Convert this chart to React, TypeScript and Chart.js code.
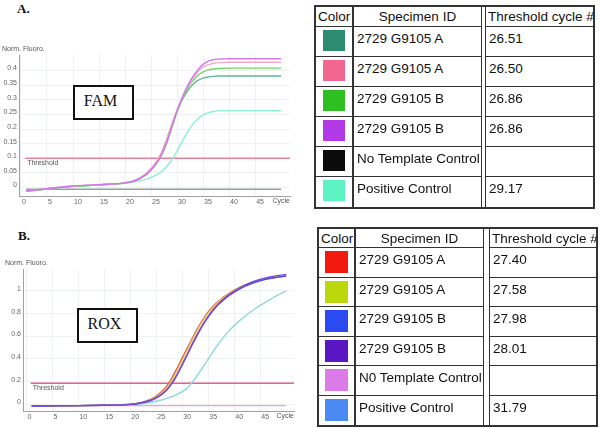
import React, { useEffect, useRef } from 'react';
import { Chart, registerables } from 'chart.js';
Chart.register(...registerables);

// ---------- FAM (panel A) ----------
const FAM_CYCLES = [1, 5, 10, 15, 20, 22, 24, 25, 26, 27, 28, 29, 30, 31, 32, 33, 34, 35, 36, 37, 38, 40, 45, 50];
const FAM_TEAL = [-0.012, -0.005, 0.004, 0.009, 0.016, 0.024, 0.046, 0.064, 0.087, 0.118, 0.163, 0.215, 0.262, 0.300, 0.330, 0.352, 0.366, 0.374, 0.378, 0.380, 0.381, 0.381, 0.381, 0.381];
const FAM_PINK = [-0.012, -0.004, 0.005, 0.010, 0.016, 0.025, 0.047, 0.065, 0.088, 0.120, 0.165, 0.217, 0.266, 0.307, 0.345, 0.372, 0.395, 0.411, 0.420, 0.425, 0.427, 0.428, 0.428, 0.428];
const FAM_GREEN = [-0.013, -0.005, 0.004, 0.009, 0.015, 0.023, 0.043, 0.060, 0.081, 0.110, 0.152, 0.205, 0.258, 0.303, 0.340, 0.365, 0.383, 0.395, 0.402, 0.405, 0.407, 0.408, 0.408, 0.408];
const FAM_PURPLE = [-0.012, -0.004, 0.005, 0.010, 0.016, 0.024, 0.044, 0.061, 0.082, 0.111, 0.154, 0.208, 0.262, 0.308, 0.348, 0.378, 0.402, 0.421, 0.432, 0.437, 0.439, 0.440, 0.440, 0.440];
const FAM_POS = [-0.012, -0.005, 0.004, 0.009, 0.015, 0.020, 0.028, 0.034, 0.043, 0.055, 0.072, 0.095, 0.125, 0.158, 0.190, 0.215, 0.235, 0.248, 0.256, 0.260, 0.262, 0.263, 0.263, 0.263];
const NTC_CYCLES = [1, 50];
const FAM_NTC = [-0.006, -0.006];
const FAM_THRESHOLD = 0.1;
const FAM_Y_TICKS = [0, 0.05, 0.1, 0.15, 0.2, 0.25, 0.3, 0.35, 0.4];

// ---------- ROX (panel B) ----------
const ROX_CYCLES = [1, 5, 10, 15, 20, 22, 24, 25, 26, 27, 28, 29, 30, 31, 32, 33, 34, 35, 36, 37, 38, 39, 40, 42, 44, 46, 48, 50];
const ROX_RED = [-0.015, -0.014, -0.012, -0.008, 0.000, 0.015, 0.045, 0.072, 0.110, 0.160, 0.232, 0.318, 0.410, 0.500, 0.590, 0.675, 0.750, 0.815, 0.868, 0.910, 0.948, 0.980, 1.008, 1.052, 1.083, 1.105, 1.120, 1.132];
const ROX_YELLOW = [-0.015, -0.014, -0.012, -0.008, 0.000, 0.014, 0.042, 0.067, 0.102, 0.148, 0.215, 0.300, 0.392, 0.485, 0.577, 0.663, 0.740, 0.807, 0.862, 0.906, 0.945, 0.978, 1.006, 1.050, 1.083, 1.106, 1.123, 1.135];
const ROX_BLUE = [-0.015, -0.014, -0.012, -0.008, -0.001, 0.012, 0.036, 0.057, 0.088, 0.128, 0.187, 0.262, 0.350, 0.442, 0.535, 0.622, 0.702, 0.772, 0.832, 0.882, 0.924, 0.960, 0.990, 1.040, 1.077, 1.103, 1.120, 1.133];
const ROX_PURPLE = [-0.015, -0.014, -0.012, -0.008, -0.001, 0.012, 0.035, 0.056, 0.086, 0.126, 0.185, 0.262, 0.352, 0.446, 0.540, 0.628, 0.708, 0.779, 0.840, 0.890, 0.932, 0.968, 0.999, 1.050, 1.088, 1.115, 1.133, 1.146];
const ROX_POS = [-0.015, -0.014, -0.012, -0.009, -0.003, 0.005, 0.018, 0.027, 0.038, 0.052, 0.068, 0.088, 0.112, 0.145, 0.200, 0.262, 0.330, 0.400, 0.470, 0.535, 0.595, 0.648, 0.695, 0.775, 0.843, 0.900, 0.955, 1.000];
const ROX_NTC = [-0.012, -0.012];
const ROX_THRESHOLD = 0.185;
const ROX_Y_TICKS = [0, 0.2, 0.4, 0.6, 0.8, 1];

const X_TICKS = [0, 5, 10, 15, 20, 25, 30, 35, 40, 45];
const THRESHOLD_CYCLES = [0.8, 55];

// ---------- tables ----------
const FAM_IDS = ['2729 G9105 A', '2729 G9105 A', '2729 G9105 B', '2729 G9105 B', 'No Template Control', 'Positive Control'];
const FAM_CTS = ['26.51', '26.50', '26.86', '26.86', '', '29.17'];
const FAM_SWATCH = ['#2b8c70', '#f2668f', '#2fbf22', '#b23ae6', '#0b0b0b', '#5cf2c2'];
const FAM_LINE = ['#62b799', '#f4a9c6', '#72d66c', '#d076f2', '#8fa39c', '#88f2cf'];

const ROX_IDS = ['2729 G9105 A', '2729 G9105 A', '2729 G9105 B', '2729 G9105 B', 'N0 Template Control', 'Positive Control'];
const ROX_CTS = ['27.40', '27.58', '27.98', '28.01', '', '31.79'];
const ROX_SWATCH = ['#f2190f', '#bcd80c', '#2a4af2', '#5a16c2', '#dc7ae8', '#4a8af2'];
const ROX_LINE = ['#c9483e', '#f0c24a', '#3e4ef0', '#8048d8', '#e9a0f2', '#8ad8e2'];

const FONT = '"Liberation Sans", Arial, sans-serif';

const annotPlugin = {
  id: 'annot',
  afterDatasetsDraw(chart: any, _args: any, opts: any) {
    const { ctx, chartArea, scales } = chart;
    ctx.save();
    ctx.font = `7px ${FONT}`;
    ctx.fillStyle = '#555';
    ctx.textAlign = 'left';
    ctx.textBaseline = 'top';
    const ty = scales.y.getPixelForValue(opts.threshold);
    ctx.fillText('Threshold', scales.x.getPixelForValue(1) + 1, ty + 1.5);
    ctx.textBaseline = 'bottom';
    ctx.fillText('Norm. Fluoro.', opts.titleX, chartArea.top - 2);
    ctx.textAlign = 'right';
    ctx.textBaseline = 'top';
    ctx.fillText('Cycle', chartArea.right, chartArea.bottom + 2);
    ctx.restore();
  },
};

type Series = { cycles: number[]; values: number[]; color: string };

type ChartProps = {
  left: number; top: number; width: number; height: number;
  padTop: number; padRight: number; yWidth: number; xHeight: number;
  xMin: number; xMax: number; yMin: number; yMax: number;
  yTicks: number[]; threshold: number; thresholdColor: string;
  series: Series[]; titleX: number;
};

function QpcrChart(p: ChartProps) {
  const ref = useRef<HTMLCanvasElement>(null);
  useEffect(() => {
    const datasets: any[] = p.series.map((s) => ({
      data: s.cycles.map((c, i) => ({ x: c, y: s.values[i] })),
      borderColor: s.color,
      borderWidth: 1.4,
      pointRadius: 0,
      fill: false,
      cubicInterpolationMode: 'monotone',
    }));
    datasets.push({
      data: THRESHOLD_CYCLES.map((c) => ({ x: c, y: p.threshold })),
      borderColor: p.thresholdColor,
      borderWidth: 1.5,
      pointRadius: 0,
      fill: false,
    });
    const chart = new Chart(ref.current as HTMLCanvasElement, {
      type: 'line',
      data: { datasets },
      plugins: [annotPlugin as any],
      options: {
        animation: false,
        responsive: false,
        events: [],
        layout: { padding: { left: 0, top: p.padTop, right: p.padRight, bottom: 0 } },
        plugins: {
          legend: { display: false },
          tooltip: { enabled: false },
          annot: { threshold: p.threshold, titleX: p.titleX },
        } as any,
        scales: {
          x: {
            type: 'linear',
            min: p.xMin,
            max: p.xMax,
            afterBuildTicks: (s: any) => { s.ticks = X_TICKS.map((v) => ({ value: v })); },
            afterFit: (s: any) => { s.height = p.xHeight; },
            ticks: {
              autoSkip: false, maxRotation: 0, align: 'start', padding: 2, labelOffset: 1,
              color: '#666', font: { family: FONT, size: 7 },
              callback: (v: any) => String(v),
            },
            grid: { color: '#eef2ee', drawTicks: false },
            border: { color: '#a0a0a0', width: 1 },
          },
          y: {
            type: 'linear',
            min: p.yMin,
            max: p.yMax,
            afterBuildTicks: (s: any) => { s.ticks = p.yTicks.map((v) => ({ value: v })); },
            afterFit: (s: any) => { s.width = p.yWidth; },
            ticks: {
              autoSkip: false, padding: 2, labelOffset: -2,
              color: '#666', font: { family: FONT, size: 7 },
              callback: (v: any) => String(+Number(v).toFixed(2)),
            },
            grid: { color: '#eef2ee', drawTicks: false },
            border: { color: '#a0a0a0', width: 1 },
          },
        },
      } as any,
    });
    return () => chart.destroy();
  }, []);
  return (
    <canvas
      ref={ref}
      width={p.width}
      height={p.height}
      style={{ position: 'absolute', left: p.left, top: p.top, width: p.width, height: p.height }}
    />
  );
}

type TableProps = {
  left: number; top: number; width: number; height: number;
  colW: number; specW: number; gapW: number; headH: number; rowH: number;
  ids: string[]; cts: string[]; swatches: string[]; swW: number; swH: number;
};

function CtTable(t: TableProps) {
  const line = '#333';
  const base: React.CSSProperties = { boxSizing: 'border-box', padding: 0, overflow: 'hidden', whiteSpace: 'nowrap' };
  return (
    <table
      style={{
        position: 'absolute', left: t.left, top: t.top, width: t.width, height: t.height,
        boxSizing: 'border-box', borderCollapse: 'separate', borderSpacing: 0, tableLayout: 'fixed',
        border: `2px solid ${line}`, fontFamily: FONT, fontSize: 13.5, color: '#111', background: '#fff',
      }}
    >
      <colgroup>
        <col style={{ width: t.colW }} />
        <col style={{ width: t.specW }} />
        <col style={{ width: t.gapW }} />
        <col />
      </colgroup>
      <tbody>
        <tr style={{ height: t.headH }}>
          <td style={{ ...base, borderRight: `2px solid ${line}`, borderBottom: `1px solid ${line}`, paddingLeft: 2, verticalAlign: 'middle' }}>Color</td>
          <td style={{ ...base, borderRight: `1px solid ${line}`, borderBottom: `1px solid ${line}`, textAlign: 'center', verticalAlign: 'middle' }}>Specimen ID</td>
          <td style={{ ...base, borderRight: `1px solid ${line}` }} />
          <td style={{ ...base, borderBottom: `1px solid ${line}`, paddingLeft: 2, verticalAlign: 'middle' }}>Threshold cycle #</td>
        </tr>
        {t.ids.map((id, i) => {
          const last = i === t.ids.length - 1;
          const bb = last ? 'none' : `1px solid ${line}`;
          return (
            <tr key={i} style={{ height: t.rowH }}>
              <td style={{ ...base, borderRight: `2px solid ${line}`, borderBottom: bb, verticalAlign: 'top', paddingTop: 3 }}>
                <div style={{ width: t.swW, height: t.swH, background: t.swatches[i], margin: '0 auto' }} />
              </td>
              <td style={{ ...base, borderRight: `1px solid ${line}`, borderBottom: bb, verticalAlign: 'top', paddingTop: 4, paddingLeft: 3 }}>{id}</td>
              <td style={{ ...base, borderRight: `1px solid ${line}` }} />
              <td style={{ ...base, borderBottom: bb, verticalAlign: 'top', paddingTop: 4, paddingLeft: 3 }}>{t.cts[i]}</td>
            </tr>
          );
        })}
      </tbody>
    </table>
  );
}

function DyeBox(props: { left: number; top: number; label: string }) {
  return (
    <div
      style={{
        position: 'absolute', left: props.left, top: props.top, width: 61, height: 35, boxSizing: 'border-box',
        border: '2px solid #111', background: '#fff', display: 'flex', alignItems: 'center', justifyContent: 'center',
        fontFamily: '"Liberation Serif", "Times New Roman", serif', fontSize: 16, color: '#111', paddingRight: 6, paddingBottom: 3,
      }}
    >
      {props.label}
    </div>
  );
}

export default function App() {
  const famSeries: Series[] = [
    { cycles: FAM_CYCLES, values: FAM_PURPLE, color: FAM_LINE[3] },
    { cycles: FAM_CYCLES, values: FAM_PINK, color: FAM_LINE[1] },
    { cycles: FAM_CYCLES, values: FAM_GREEN, color: FAM_LINE[2] },
    { cycles: FAM_CYCLES, values: FAM_TEAL, color: FAM_LINE[0] },
    { cycles: FAM_CYCLES, values: FAM_POS, color: FAM_LINE[5] },
    { cycles: NTC_CYCLES, values: FAM_NTC, color: FAM_LINE[4] },
  ];
  const roxSeries: Series[] = [
    { cycles: ROX_CYCLES, values: ROX_PURPLE, color: ROX_LINE[3] },
    { cycles: ROX_CYCLES, values: ROX_BLUE, color: ROX_LINE[2] },
    { cycles: ROX_CYCLES, values: ROX_YELLOW, color: ROX_LINE[1] },
    { cycles: ROX_CYCLES, values: ROX_RED, color: ROX_LINE[0] },
    { cycles: ROX_CYCLES, values: ROX_POS, color: ROX_LINE[5] },
    { cycles: NTC_CYCLES, values: ROX_NTC, color: ROX_LINE[4] },
  ];
  const panelLabel: React.CSSProperties = {
    position: 'absolute', fontFamily: '"Liberation Serif", "Times New Roman", serif', fontWeight: 'bold',
    fontSize: 13, lineHeight: '13px', color: '#111',
  };
  return (
    <div style={{ position: 'fixed', left: 0, top: 0, width: 600, height: 428, background: '#fff', overflow: 'hidden' }}>
      <div style={{ ...panelLabel, left: 17, top: 2 }}>A.</div>
      <div style={{ ...panelLabel, left: 18, top: 229 }}>B.</div>
      <QpcrChart
        left={0} top={40} width={300} height={172}
        padTop={15} padRight={10} yWidth={19} xHeight={16}
        xMin={-0.38} xMax={51.7} yMin={-0.029} yMax={0.453}
        yTicks={FAM_Y_TICKS} threshold={FAM_THRESHOLD} thresholdColor="#e8809a"
        series={famSeries} titleX={2}
      />
      <QpcrChart
        left={0} top={255} width={300} height={170}
        padTop={14} padRight={6} yWidth={23} xHeight={14}
        xMin={-0.67} xMax={51.5} yMin={-0.059} yMax={1.194}
        yTicks={ROX_Y_TICKS} threshold={ROX_THRESHOLD} thresholdColor="#e0608a"
        series={roxSeries} titleX={5}
      />
      <DyeBox left={73} top={85} label="FAM" />
      <DyeBox left={77} top={308} label="ROX" />
      <CtTable
        left={314} top={5} width={281} height={204}
        colW={38} specW={128} gapW={4} headH={20} rowH={30}
        ids={FAM_IDS} cts={FAM_CTS} swatches={FAM_SWATCH} swW={22} swH={21}
      />
      <CtTable
        left={317} top={227} width={281} height={200}
        colW={37} specW={128} gapW={6} headH={19} rowH={29.5}
        ids={ROX_IDS} cts={ROX_CTS} swatches={ROX_SWATCH} swW={23} swH={22}
      />
    </div>
  );
}
